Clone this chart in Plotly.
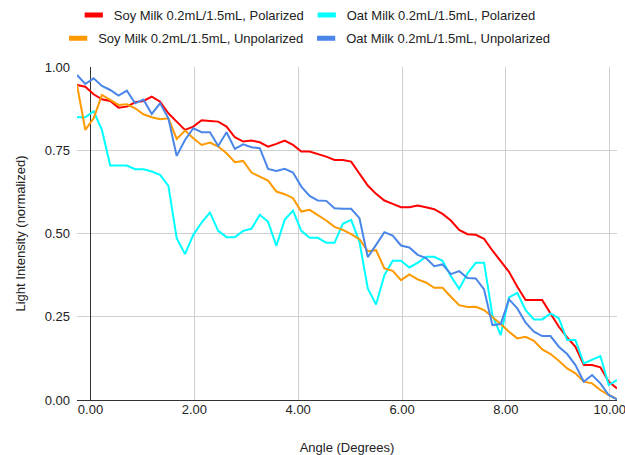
import plotly.graph_objects as go

angle = [
    -0.26, -0.10, 0.06, 0.22, 0.38, 0.54, 0.70, 0.86, 1.02, 1.18, 1.34,
    1.50, 1.66, 1.82, 1.98, 2.14, 2.30, 2.46, 2.62, 2.78, 2.94, 3.10,
    3.26, 3.42, 3.58, 3.74, 3.90, 4.06, 4.22, 4.38, 4.54, 4.70, 4.86,
    5.02, 5.18, 5.34, 5.50, 5.66, 5.82, 5.98, 6.14, 6.30, 6.46, 6.62,
    6.78, 6.94, 7.10, 7.26, 7.42, 7.58, 7.74, 7.90, 8.06, 8.22, 8.38,
    8.54, 8.70, 8.86, 9.02, 9.18, 9.34, 9.50, 9.66, 9.82, 9.98, 10.14,
]

soy_polarized = [
    0.946, 0.941, 0.918, 0.903, 0.898, 0.878, 0.881, 0.894, 0.898, 0.911, 0.896,
    0.861, 0.836, 0.811, 0.821, 0.840, 0.838, 0.836, 0.821, 0.789, 0.776, 0.779,
    0.774, 0.761, 0.769, 0.779, 0.766, 0.746, 0.746, 0.739, 0.731, 0.721, 0.721,
    0.716, 0.681, 0.644, 0.619, 0.599, 0.589, 0.579, 0.579, 0.584, 0.579, 0.573,
    0.559, 0.539, 0.511, 0.498, 0.496, 0.484, 0.449, 0.416, 0.385, 0.340, 0.300,
    0.300, 0.300, 0.260, 0.220, 0.188, 0.160, 0.105, 0.105, 0.098, 0.055, 0.035,
]

oat_polarized = [
    0.849, 0.849, 0.867, 0.811, 0.704, 0.704, 0.704, 0.693, 0.693, 0.686, 0.676,
    0.643, 0.486, 0.438, 0.496, 0.533, 0.563, 0.508, 0.489, 0.489, 0.508, 0.514,
    0.556, 0.535, 0.463, 0.541, 0.569, 0.508, 0.487, 0.487, 0.472, 0.472, 0.529,
    0.541, 0.475, 0.335, 0.287, 0.375, 0.418, 0.418, 0.398, 0.412, 0.430, 0.430,
    0.418, 0.372, 0.334, 0.380, 0.412, 0.412, 0.255, 0.195, 0.308, 0.322, 0.270,
    0.242, 0.242, 0.260, 0.245, 0.180, 0.180, 0.110, 0.122, 0.132, 0.045, 0.060,
]

soy_unpolarized = [
    0.946, 0.811, 0.846, 0.916, 0.901, 0.886, 0.888, 0.876, 0.858, 0.849, 0.843,
    0.846, 0.784, 0.809, 0.786, 0.766, 0.773, 0.761, 0.741, 0.714, 0.718, 0.683,
    0.671, 0.659, 0.626, 0.618, 0.606, 0.566, 0.571, 0.556, 0.539, 0.520, 0.511,
    0.498, 0.483, 0.447, 0.450, 0.395, 0.388, 0.360, 0.377, 0.362, 0.353, 0.337,
    0.337, 0.310, 0.285, 0.279, 0.280, 0.270, 0.250, 0.228, 0.205, 0.185, 0.190,
    0.178, 0.152, 0.138, 0.118, 0.095, 0.080, 0.055, 0.050, 0.030, 0.015, 0.003,
]

oat_unpolarized = [
    0.976, 0.949, 0.966, 0.943, 0.931, 0.914, 0.929, 0.891, 0.902, 0.859, 0.891,
    0.846, 0.733, 0.781, 0.816, 0.804, 0.804, 0.763, 0.804, 0.754, 0.768, 0.759,
    0.756, 0.694, 0.688, 0.694, 0.683, 0.641, 0.613, 0.599, 0.598, 0.576, 0.574,
    0.574, 0.546, 0.429, 0.466, 0.504, 0.494, 0.464, 0.458, 0.436, 0.426, 0.402,
    0.407, 0.378, 0.387, 0.366, 0.365, 0.332, 0.225, 0.228, 0.302, 0.275, 0.232,
    0.205, 0.192, 0.192, 0.160, 0.138, 0.105, 0.055, 0.075, 0.050, 0.015, 0.002,
]

y_ticks = [0, 0.25, 0.5, 0.75, 1.0]
x_ticks = [0, 2, 4, 6, 8, 10]

FONT = "Liberation Sans, Arial, sans-serif"

# (name, values, colour, legend row)
series = [
    ("Soy Milk 0.2mL/1.5mL, Polarized", soy_polarized, "#ff0000", "legend"),
    ("Oat Milk 0.2mL/1.5mL, Polarized", oat_polarized, "#00ffff", "legend"),
    ("Soy Milk 0.2mL/1.5mL, Unpolarized", soy_unpolarized, "#ff9900", "legend2"),
    ("Oat Milk 0.2mL/1.5mL, Unpolarized", oat_unpolarized, "#4a86e8", "legend2"),
]

fig = go.Figure()
for name, values, color, _ in series:
    fig.add_trace(go.Scatter(
        x=angle, y=values, name=name, mode="lines",
        line=dict(color=color, width=2), showlegend=False,
    ))

# legend swatches: short thick bars like the sheets legend
for name, _, color, leg in series:
    fig.add_trace(go.Scatter(
        x=[None], y=[None], name=name, mode="markers", legend=leg,
        marker=dict(symbol="line-ew", size=13, line=dict(color=color, width=5)),
    ))

legend_common = dict(
    orientation="h", xref="container", yref="container",
    xanchor="left", yanchor="middle",
    font=dict(family=FONT, size=13, color="#222222"),
    entrywidthmode="pixels", bgcolor="rgba(0,0,0,0)",
)

fig.update_layout(
    width=625, height=455,
    paper_bgcolor="white", plot_bgcolor="white",
    margin=dict(l=77, r=8, t=67, b=55),
    font=dict(family=FONT, size=13, color="#222222"),
    legend=dict(x=0.118, y=0.967, entrywidth=188, **legend_common),
    legend2=dict(x=0.093, y=0.916, entrywidth=203, **legend_common),
    xaxis=dict(
        range=[angle[0], angle[-1]],
        tickvals=x_ticks, tickformat=".2f", ticklabeloverflow="allow",
        showgrid=True, gridcolor="#d0d0d0", gridwidth=1,
        zeroline=True, zerolinecolor="#333333", zerolinewidth=1,
        showline=False, ticks="", automargin=False,
        title=dict(text="Angle (Degrees)", standoff=27,
                   font=dict(family=FONT, size=13, color="#222222")),
        tickfont=dict(size=13, color="#222222"),
    ),
    yaxis=dict(
        range=[0, 1.0],
        tickvals=y_ticks, tickformat=".2f",
        showgrid=True, gridcolor="#d0d0d0", gridwidth=1,
        zeroline=True, zerolinecolor="#333333", zerolinewidth=1,
        showline=False, ticks="", ticklabelstandoff=6, automargin=False,
        title=dict(text="Light Intensity (normalized)", standoff=16,
                   font=dict(family=FONT, size=13, color="#222222")),
        tickfont=dict(size=13, color="#222222"),
    ),
)

# the page body has a default 8px margin; drop it so the chart sits at 0,0
fig.write_html(
    "out.html",
    config={"displayModeBar": False},
    post_script="document.body.style.margin = '0';",
)
